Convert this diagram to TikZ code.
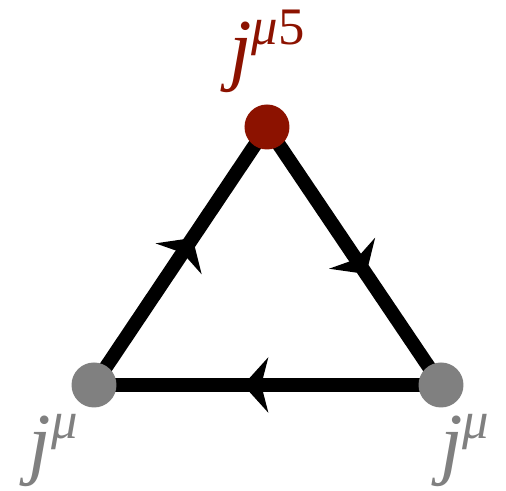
\documentclass[tikz,border=0pt]{standalone}
\usepackage{fontspec}
\newfontfamily\tms{Liberation Serif}
\usepackage{tikz}
\usetikzlibrary{arrows.meta, positioning, backgrounds, decorations.markings}
\definecolor{axialred}{RGB}{140, 18, 0}
\definecolor{vecgray}{RGB}{128, 128, 128}
\newcommand{\curr}[1]{{\tms\fontsize{46}{46}\selectfont\itshape j\raisebox{0.38em}{\fontsize{30}{30}\selectfont μ\upshape#1}}}
\tikzset{
  >=Stealth,
  vtx/.style={circle, inner sep=0pt, minimum size=0.9cm},
  fermion/.style={line width=0.28cm, black,
    postaction={decorate, decoration={markings,
      mark=at position 0.57 with {\arrow{Stealth[length=0.5cm, width=1.1cm, inset=0.14cm]}}}}},
  curlabel/.style={inner sep=0pt}
}
\begin{document}
\begin{tikzpicture}
    \useasboundingbox (0,0) rectangle (10.12,9.82);
    \node (top) [vtx, fill=axialred] at (5.34,7.28) {};
    \node (left) [vtx, fill=vecgray] at (1.88,2.12) {};
    \node (right) [vtx, fill=vecgray] at (8.82,2.12) {};
    \node (ltop) [curlabel, text=axialred, above=0.22cm of top] {\curr{5}};
    \node (lleft) [curlabel, text=vecgray, below left=0.26cm and 0cm of left] {\curr{}};
    \node (lright) [curlabel, text=vecgray, below right=0.26cm and -0.34cm of right] {\curr{}};

    \begin{pgfonlayer}{background}
    \draw[fermion] (left.center) -- (top.center);
    \draw[fermion] (top.center) -- (right.center);
    \draw[fermion] (right.center) -- (left.center);
    \end{pgfonlayer}
\end{tikzpicture}
\end{document}
